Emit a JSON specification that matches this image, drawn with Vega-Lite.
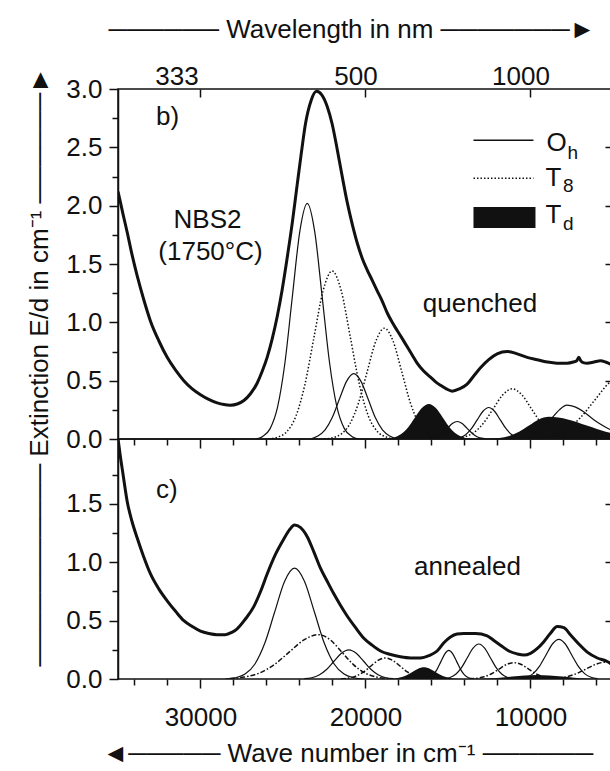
{
"$schema": "https://vega.github.io/schema/vega-lite/v6.json",
"background": "white",
"padding": {"left": 25, "top": 15, "right": 0, "bottom": 0},
"bounds": "flush",
"spacing": 0,
"config": {
 "view": {"stroke": "#111", "strokeWidth": 1.5},
 "font": "Liberation Sans",
 "axis": {"domainColor": "#111", "tickColor": "#111", "labelColor": "#111", "titleColor": "#111", "labelFont": "Liberation Sans", "titleFont": "Liberation Sans", "labelFontSize": 26, "titleFontSize": 26, "titleFontWeight": "normal", "grid": false, "domainWidth": 1.5, "tickWidth": 1.5, "labelOverlap": false, "labelFlush": false},
 "text": {"font": "Liberation Sans", "fontSize": 26, "color": "#111"}
},
"datasets": {
 "top": [
  {"k":"T","s":"t","x":35000,"y":2.12},{"k":"T","s":"t","x":34950,"y":2.09},{"k":"T","s":"t","x":34700,"y":1.93},{"k":"T","s":"t","x":34440,"y":1.77},{"k":"T","s":"t","x":34150,"y":1.58},{"k":"T","s":"t","x":33840,"y":1.40},{"k":"T","s":"t","x":33450,"y":1.20},{"k":"T","s":"t","x":33030,"y":1.01},{"k":"T","s":"t","x":32520,"y":0.84},{"k":"T","s":"t","x":32020,"y":0.70},{"k":"T","s":"t","x":31510,"y":0.59},{"k":"T","s":"t","x":31010,"y":0.50},{"k":"T","s":"t","x":30500,"y":0.43},{"k":"T","s":"t","x":30000,"y":0.38},{"k":"T","s":"t","x":29500,"y":0.34},{"k":"T","s":"t","x":28990,"y":0.31},{"k":"T","s":"t","x":28580,"y":0.295},{"k":"T","s":"t","x":28180,"y":0.29},{"k":"T","s":"t","x":27770,"y":0.30},{"k":"T","s":"t","x":27370,"y":0.33},{"k":"T","s":"t","x":26960,"y":0.39},{"k":"T","s":"t","x":26560,"y":0.48},{"k":"T","s":"t","x":26260,"y":0.58},{"k":"T","s":"t","x":25960,"y":0.70},{"k":"T","s":"t","x":25650,"y":0.86},{"k":"T","s":"t","x":25350,"y":1.05},{"k":"T","s":"t","x":25050,"y":1.28},{"k":"T","s":"t","x":24750,"y":1.55},{"k":"T","s":"t","x":24440,"y":1.85},{"k":"T","s":"t","x":24140,"y":2.18},{"k":"T","s":"t","x":23890,"y":2.45},{"k":"T","s":"t","x":23640,"y":2.70},{"k":"T","s":"t","x":23300,"y":2.90},{"k":"T","s":"t","x":22970,"y":2.98},{"k":"T","s":"t","x":22650,"y":2.95},{"k":"T","s":"t","x":22320,"y":2.85},{"k":"T","s":"t","x":22020,"y":2.70},{"k":"T","s":"t","x":21710,"y":2.48},{"k":"T","s":"t","x":21410,"y":2.25},{"k":"T","s":"t","x":21110,"y":2.03},{"k":"T","s":"t","x":20800,"y":1.84},{"k":"T","s":"t","x":20500,"y":1.68},{"k":"T","s":"t","x":20200,"y":1.55},{"k":"T","s":"t","x":19900,"y":1.45},{"k":"T","s":"t","x":19590,"y":1.36},{"k":"T","s":"t","x":19290,"y":1.27},{"k":"T","s":"t","x":18980,"y":1.18},{"k":"T","s":"t","x":18680,"y":1.08},{"k":"T","s":"t","x":18380,"y":1.00},{"k":"T","s":"t","x":18080,"y":0.93},{"k":"T","s":"t","x":17770,"y":0.86},{"k":"T","s":"t","x":17470,"y":0.79},{"k":"T","s":"t","x":17170,"y":0.72},{"k":"T","s":"t","x":16870,"y":0.65},{"k":"T","s":"t","x":16460,"y":0.58},{"k":"T","s":"t","x":16060,"y":0.53},{"k":"T","s":"t","x":15750,"y":0.49},{"k":"T","s":"t","x":15450,"y":0.46},{"k":"T","s":"t","x":15100,"y":0.43},{"k":"T","s":"t","x":14750,"y":0.41},{"k":"T","s":"t","x":14300,"y":0.43},{"k":"T","s":"t","x":13840,"y":0.47},{"k":"T","s":"t","x":13440,"y":0.54},{"k":"T","s":"t","x":13030,"y":0.61},{"k":"T","s":"t","x":12530,"y":0.68},{"k":"T","s":"t","x":12020,"y":0.73},{"k":"T","s":"t","x":11410,"y":0.75},{"k":"T","s":"t","x":10800,"y":0.73},{"k":"T","s":"t","x":10200,"y":0.70},{"k":"T","s":"t","x":9600,"y":0.68},{"k":"T","s":"t","x":8990,"y":0.66},{"k":"T","s":"t","x":8400,"y":0.65},{"k":"T","s":"t","x":7780,"y":0.65},{"k":"T","s":"t","x":7400,"y":0.66},{"k":"T","s":"t","x":7200,"y":0.67},{"k":"T","s":"t","x":7070,"y":0.70},{"k":"T","s":"t","x":6950,"y":0.67},{"k":"T","s":"t","x":6800,"y":0.655},{"k":"T","s":"t","x":6560,"y":0.65},{"k":"T","s":"t","x":6150,"y":0.66},{"k":"T","s":"t","x":5760,"y":0.67},{"k":"T","s":"t","x":5450,"y":0.66},{"k":"T","s":"t","x":5120,"y":0.64},
  {"k":"O","s":"a","x":26680,"y":0},{"k":"O","s":"a","x":26230,"y":0.022},{"k":"O","s":"a","x":25780,"y":0.089},{"k":"O","s":"a","x":25330,"y":0.273},{"k":"O","s":"a","x":24880,"y":0.656},{"k":"O","s":"a","x":24430,"y":1.225},{"k":"O","s":"a","x":23980,"y":1.78},{"k":"O","s":"a","x":23530,"y":2.02},{"k":"O","s":"a","x":23080,"y":1.78},{"k":"O","s":"a","x":22630,"y":1.225},{"k":"O","s":"a","x":22180,"y":0.656},{"k":"O","s":"a","x":21730,"y":0.273},{"k":"O","s":"a","x":21280,"y":0.089},{"k":"O","s":"a","x":20830,"y":0.022},{"k":"O","s":"a","x":20380,"y":0},
  {"k":"O","s":"b","x":23335,"y":0},{"k":"O","s":"b","x":22897,"y":0.025},{"k":"O","s":"b","x":22460,"y":0.076},{"k":"O","s":"b","x":22022,"y":0.182},{"k":"O","s":"b","x":21585,"y":0.34},{"k":"O","s":"b","x":21147,"y":0.494},{"k":"O","s":"b","x":20710,"y":0.56},{"k":"O","s":"b","x":20273,"y":0.494},{"k":"O","s":"b","x":19835,"y":0.34},{"k":"O","s":"b","x":19398,"y":0.182},{"k":"O","s":"b","x":18960,"y":0.076},{"k":"O","s":"b","x":18523,"y":0.025},{"k":"O","s":"b","x":18085,"y":0},
  {"k":"O","s":"c","x":16240,"y":0},{"k":"O","s":"c","x":15940,"y":0.007},{"k":"O","s":"c","x":15640,"y":0.02},{"k":"O","s":"c","x":15340,"y":0.049},{"k":"O","s":"c","x":15040,"y":0.091},{"k":"O","s":"c","x":14740,"y":0.132},{"k":"O","s":"c","x":14440,"y":0.15},{"k":"O","s":"c","x":14140,"y":0.132},{"k":"O","s":"c","x":13840,"y":0.091},{"k":"O","s":"c","x":13540,"y":0.049},{"k":"O","s":"c","x":13240,"y":0.02},{"k":"O","s":"c","x":12940,"y":0.007},{"k":"O","s":"c","x":12640,"y":0},
  {"k":"O","s":"d","x":14630,"y":0},{"k":"O","s":"d","x":14280,"y":0.012},{"k":"O","s":"d","x":13930,"y":0.037},{"k":"O","s":"d","x":13580,"y":0.088},{"k":"O","s":"d","x":13230,"y":0.164},{"k":"O","s":"d","x":12880,"y":0.238},{"k":"O","s":"d","x":12530,"y":0.27},{"k":"O","s":"d","x":12180,"y":0.238},{"k":"O","s":"d","x":11830,"y":0.164},{"k":"O","s":"d","x":11480,"y":0.088},{"k":"O","s":"d","x":11130,"y":0.037},{"k":"O","s":"d","x":10780,"y":0.012},{"k":"O","s":"d","x":10430,"y":0},
  {"k":"O","s":"e","x":10700,"y":0},{"k":"O","s":"e","x":10200,"y":0.012},{"k":"O","s":"e","x":9700,"y":0.04},{"k":"O","s":"e","x":9200,"y":0.10},{"k":"O","s":"e","x":8700,"y":0.18},{"k":"O","s":"e","x":8250,"y":0.25},{"k":"O","s":"e","x":7800,"y":0.29},{"k":"O","s":"e","x":7300,"y":0.275},{"k":"O","s":"e","x":6800,"y":0.235},{"k":"O","s":"e","x":6300,"y":0.18},{"k":"O","s":"e","x":5800,"y":0.13},{"k":"O","s":"e","x":5300,"y":0.09},{"k":"O","s":"e","x":5000,"y":0.07},
  {"k":"E","s":"f","x":25870,"y":0},{"k":"E","s":"f","x":25320,"y":0.016},{"k":"E","s":"f","x":24770,"y":0.063},{"k":"E","s":"f","x":24220,"y":0.195},{"k":"E","s":"f","x":23670,"y":0.468},{"k":"E","s":"f","x":23120,"y":0.873},{"k":"E","s":"f","x":22570,"y":1.271},{"k":"E","s":"f","x":22020,"y":1.44},{"k":"E","s":"f","x":21470,"y":1.271},{"k":"E","s":"f","x":20920,"y":0.873},{"k":"E","s":"f","x":20370,"y":0.468},{"k":"E","s":"f","x":19820,"y":0.195},{"k":"E","s":"f","x":19270,"y":0.063},{"k":"E","s":"f","x":18720,"y":0.016},{"k":"E","s":"f","x":18170,"y":0},
  {"k":"E","s":"g","x":22500,"y":0},{"k":"E","s":"g","x":22000,"y":0.011},{"k":"E","s":"g","x":21475,"y":0.042},{"k":"E","s":"g","x":20950,"y":0.129},{"k":"E","s":"g","x":20425,"y":0.308},{"k":"E","s":"g","x":19900,"y":0.576},{"k":"E","s":"g","x":19375,"y":0.838},{"k":"E","s":"g","x":18850,"y":0.95},{"k":"E","s":"g","x":18325,"y":0.838},{"k":"E","s":"g","x":17800,"y":0.576},{"k":"E","s":"g","x":17275,"y":0.308},{"k":"E","s":"g","x":16750,"y":0.129},{"k":"E","s":"g","x":16225,"y":0.042},{"k":"E","s":"g","x":15700,"y":0.011},{"k":"E","s":"g","x":15200,"y":0},
  {"k":"E","s":"h","x":14550,"y":0.005},{"k":"E","s":"h","x":13975,"y":0.019},{"k":"E","s":"h","x":13400,"y":0.058},{"k":"E","s":"h","x":12825,"y":0.14},{"k":"E","s":"h","x":12250,"y":0.261},{"k":"E","s":"h","x":11675,"y":0.379},{"k":"E","s":"h","x":11100,"y":0.43},{"k":"E","s":"h","x":10525,"y":0.379},{"k":"E","s":"h","x":9950,"y":0.261},{"k":"E","s":"h","x":9375,"y":0.14},{"k":"E","s":"h","x":8800,"y":0.058},{"k":"E","s":"h","x":8225,"y":0.019},{"k":"E","s":"h","x":7650,"y":0.005},
  {"k":"E","s":"i","x":9700,"y":0.006},{"k":"E","s":"i","x":8800,"y":0.025},{"k":"E","s":"i","x":7900,"y":0.074},{"k":"E","s":"i","x":7000,"y":0.179},{"k":"E","s":"i","x":6100,"y":0.334},{"k":"E","s":"i","x":5200,"y":0.485},{"k":"E","s":"i","x":4300,"y":0.55},
  {"k":"D","s":"j","x":18710,"y":0},{"k":"D","s":"j","x":18285,"y":0.013},{"k":"D","s":"j","x":17860,"y":0.041},{"k":"D","s":"j","x":17435,"y":0.097},{"k":"D","s":"j","x":17010,"y":0.182},{"k":"D","s":"j","x":16585,"y":0.265},{"k":"D","s":"j","x":16160,"y":0.30},{"k":"D","s":"j","x":15735,"y":0.265},{"k":"D","s":"j","x":15310,"y":0.182},{"k":"D","s":"j","x":14885,"y":0.097},{"k":"D","s":"j","x":14460,"y":0.041},{"k":"D","s":"j","x":14035,"y":0.013},{"k":"D","s":"j","x":13610,"y":0},
  {"k":"D","s":"k","x":12490,"y":0},{"k":"D","s":"k","x":11890,"y":0.008},{"k":"D","s":"k","x":11290,"y":0.026},{"k":"D","s":"k","x":10690,"y":0.062},{"k":"D","s":"k","x":10090,"y":0.115},{"k":"D","s":"k","x":9490,"y":0.168},{"k":"D","s":"k","x":8890,"y":0.19},{"k":"D","s":"k","x":7740,"y":0.168},{"k":"D","s":"k","x":6590,"y":0.115},{"k":"D","s":"k","x":5440,"y":0.062},{"k":"D","s":"k","x":4290,"y":0.026}
 ],
 "bot": [
  {"k":"T","s":"t","x":35000,"y":2.06},{"k":"T","s":"t","x":34850,"y":1.90},{"k":"T","s":"t","x":34700,"y":1.76},{"k":"T","s":"t","x":34440,"y":1.52},{"k":"T","s":"t","x":34150,"y":1.35},{"k":"T","s":"t","x":33840,"y":1.21},{"k":"T","s":"t","x":33450,"y":1.05},{"k":"T","s":"t","x":33030,"y":0.90},{"k":"T","s":"t","x":32520,"y":0.77},{"k":"T","s":"t","x":32020,"y":0.67},{"k":"T","s":"t","x":31510,"y":0.58},{"k":"T","s":"t","x":31010,"y":0.50},{"k":"T","s":"t","x":30500,"y":0.45},{"k":"T","s":"t","x":30000,"y":0.41},{"k":"T","s":"t","x":29500,"y":0.39},{"k":"T","s":"t","x":29000,"y":0.38},{"k":"T","s":"t","x":28500,"y":0.38},{"k":"T","s":"t","x":28100,"y":0.40},{"k":"T","s":"t","x":27780,"y":0.43},{"k":"T","s":"t","x":27300,"y":0.51},{"k":"T","s":"t","x":26770,"y":0.62},{"k":"T","s":"t","x":26360,"y":0.75},{"k":"T","s":"t","x":25960,"y":0.90},{"k":"T","s":"t","x":25450,"y":1.07},{"k":"T","s":"t","x":24950,"y":1.20},{"k":"T","s":"t","x":24600,"y":1.28},{"k":"T","s":"t","x":24300,"y":1.32},{"k":"T","s":"t","x":23950,"y":1.30},{"k":"T","s":"t","x":23530,"y":1.22},{"k":"T","s":"t","x":23130,"y":1.09},{"k":"T","s":"t","x":22730,"y":0.95},{"k":"T","s":"t","x":22330,"y":0.84},{"k":"T","s":"t","x":21920,"y":0.73},{"k":"T","s":"t","x":21510,"y":0.63},{"k":"T","s":"t","x":21110,"y":0.54},{"k":"T","s":"t","x":20600,"y":0.44},{"k":"T","s":"t","x":20100,"y":0.35},{"k":"T","s":"t","x":19600,"y":0.29},{"k":"T","s":"t","x":19090,"y":0.24},{"k":"T","s":"t","x":18480,"y":0.21},{"k":"T","s":"t","x":17880,"y":0.19},{"k":"T","s":"t","x":17270,"y":0.18},{"k":"T","s":"t","x":16670,"y":0.18},{"k":"T","s":"t","x":16160,"y":0.20},{"k":"T","s":"t","x":15660,"y":0.24},{"k":"T","s":"t","x":15250,"y":0.31},{"k":"T","s":"t","x":14850,"y":0.36},{"k":"T","s":"t","x":14450,"y":0.385},{"k":"T","s":"t","x":14040,"y":0.39},{"k":"T","s":"t","x":13330,"y":0.39},{"k":"T","s":"t","x":12620,"y":0.37},{"k":"T","s":"t","x":12220,"y":0.33},{"k":"T","s":"t","x":11820,"y":0.29},{"k":"T","s":"t","x":11310,"y":0.24},{"k":"T","s":"t","x":10810,"y":0.215},{"k":"T","s":"t","x":10400,"y":0.205},{"k":"T","s":"t","x":10000,"y":0.22},{"k":"T","s":"t","x":9600,"y":0.26},{"k":"T","s":"t","x":9190,"y":0.32},{"k":"T","s":"t","x":8800,"y":0.39},{"k":"T","s":"t","x":8380,"y":0.45},{"k":"T","s":"t","x":7980,"y":0.44},{"k":"T","s":"t","x":7580,"y":0.38},{"k":"T","s":"t","x":7070,"y":0.30},{"k":"T","s":"t","x":6560,"y":0.23},{"k":"T","s":"t","x":5950,"y":0.18},{"k":"T","s":"t","x":5350,"y":0.15},{"k":"T","s":"t","x":5120,"y":0.13},
  {"k":"O","s":"a","x":28500,"y":0},{"k":"O","s":"a","x":27900,"y":0.0105},{"k":"O","s":"a","x":27300,"y":0.042},{"k":"O","s":"a","x":26700,"y":0.129},{"k":"O","s":"a","x":26100,"y":0.308},{"k":"O","s":"a","x":25500,"y":0.576},{"k":"O","s":"a","x":24900,"y":0.838},{"k":"O","s":"a","x":24300,"y":0.95},{"k":"O","s":"a","x":23700,"y":0.838},{"k":"O","s":"a","x":23100,"y":0.576},{"k":"O","s":"a","x":22500,"y":0.308},{"k":"O","s":"a","x":21900,"y":0.129},{"k":"O","s":"a","x":21300,"y":0.042},{"k":"O","s":"a","x":20700,"y":0.0105},{"k":"O","s":"a","x":20100,"y":0},
  {"k":"O","s":"b","x":23710,"y":0.003},{"k":"O","s":"b","x":23260,"y":0.011},{"k":"O","s":"b","x":22810,"y":0.034},{"k":"O","s":"b","x":22360,"y":0.081},{"k":"O","s":"b","x":21910,"y":0.152},{"k":"O","s":"b","x":21460,"y":0.221},{"k":"O","s":"b","x":21010,"y":0.25},{"k":"O","s":"b","x":20560,"y":0.221},{"k":"O","s":"b","x":20110,"y":0.152},{"k":"O","s":"b","x":19660,"y":0.081},{"k":"O","s":"b","x":19210,"y":0.034},{"k":"O","s":"b","x":18760,"y":0.011},{"k":"O","s":"b","x":18310,"y":0.003},
  {"k":"O","s":"c","x":16390,"y":0.003},{"k":"O","s":"c","x":16150,"y":0.011},{"k":"O","s":"c","x":15910,"y":0.033},{"k":"O","s":"c","x":15670,"y":0.08},{"k":"O","s":"c","x":15430,"y":0.149},{"k":"O","s":"c","x":15190,"y":0.216},{"k":"O","s":"c","x":14950,"y":0.245},{"k":"O","s":"c","x":14710,"y":0.216},{"k":"O","s":"c","x":14470,"y":0.149},{"k":"O","s":"c","x":14230,"y":0.08},{"k":"O","s":"c","x":13990,"y":0.033},{"k":"O","s":"c","x":13750,"y":0.011},{"k":"O","s":"c","x":13510,"y":0.003},
  {"k":"O","s":"d","x":15230,"y":0.003},{"k":"O","s":"d","x":14880,"y":0.013},{"k":"O","s":"d","x":14530,"y":0.041},{"k":"O","s":"d","x":14180,"y":0.097},{"k":"O","s":"d","x":13830,"y":0.182},{"k":"O","s":"d","x":13480,"y":0.265},{"k":"O","s":"d","x":13130,"y":0.30},{"k":"O","s":"d","x":12780,"y":0.265},{"k":"O","s":"d","x":12430,"y":0.182},{"k":"O","s":"d","x":12080,"y":0.097},{"k":"O","s":"d","x":11730,"y":0.041},{"k":"O","s":"d","x":11380,"y":0.013},{"k":"O","s":"d","x":11030,"y":0.003},
  {"k":"O","s":"e","x":10620,"y":0.004},{"k":"O","s":"e","x":10230,"y":0.015},{"k":"O","s":"e","x":9840,"y":0.046},{"k":"O","s":"e","x":9450,"y":0.11},{"k":"O","s":"e","x":9060,"y":0.206},{"k":"O","s":"e","x":8670,"y":0.30},{"k":"O","s":"e","x":8280,"y":0.34},{"k":"O","s":"e","x":7890,"y":0.30},{"k":"O","s":"e","x":7500,"y":0.206},{"k":"O","s":"e","x":7110,"y":0.11},{"k":"O","s":"e","x":6720,"y":0.046},{"k":"O","s":"e","x":6330,"y":0.015},{"k":"O","s":"e","x":5940,"y":0.004},
  {"k":"E","s":"f","x":28230,"y":0.004},{"k":"E","s":"f","x":27330,"y":0.017},{"k":"E","s":"f","x":26430,"y":0.051},{"k":"E","s":"f","x":25530,"y":0.123},{"k":"E","s":"f","x":24630,"y":0.23},{"k":"E","s":"f","x":23730,"y":0.335},{"k":"E","s":"f","x":22830,"y":0.38},{"k":"E","s":"f","x":22130,"y":0.335},{"k":"E","s":"f","x":21430,"y":0.23},{"k":"E","s":"f","x":20730,"y":0.123},{"k":"E","s":"f","x":20030,"y":0.051},{"k":"E","s":"f","x":19330,"y":0.017},{"k":"E","s":"f","x":18630,"y":0.004},
  {"k":"E","s":"g","x":21490,"y":0.002},{"k":"E","s":"g","x":21040,"y":0.008},{"k":"E","s":"g","x":20590,"y":0.024},{"k":"E","s":"g","x":20140,"y":0.058},{"k":"E","s":"g","x":19690,"y":0.109},{"k":"E","s":"g","x":19240,"y":0.159},{"k":"E","s":"g","x":18790,"y":0.18},{"k":"E","s":"g","x":18340,"y":0.159},{"k":"E","s":"g","x":17890,"y":0.109},{"k":"E","s":"g","x":17440,"y":0.058},{"k":"E","s":"g","x":16990,"y":0.024},{"k":"E","s":"g","x":16540,"y":0.008},{"k":"E","s":"g","x":16090,"y":0.002},
  {"k":"E","s":"h","x":13710,"y":0.002},{"k":"E","s":"h","x":13260,"y":0.006},{"k":"E","s":"h","x":12810,"y":0.019},{"k":"E","s":"h","x":12360,"y":0.045},{"k":"E","s":"h","x":11910,"y":0.085},{"k":"E","s":"h","x":11460,"y":0.124},{"k":"E","s":"h","x":11010,"y":0.14},{"k":"E","s":"h","x":10560,"y":0.124},{"k":"E","s":"h","x":10110,"y":0.085},{"k":"E","s":"h","x":9660,"y":0.045},{"k":"E","s":"h","x":9210,"y":0.019},{"k":"E","s":"h","x":8760,"y":0.006},{"k":"E","s":"h","x":8310,"y":0.002},
  {"k":"E","s":"i","x":9000,"y":0.002},{"k":"E","s":"i","x":8400,"y":0.006},{"k":"E","s":"i","x":7800,"y":0.02},{"k":"E","s":"i","x":7200,"y":0.047},{"k":"E","s":"i","x":6600,"y":0.088},{"k":"E","s":"i","x":6000,"y":0.128},{"k":"E","s":"i","x":5400,"y":0.145},{"k":"E","s":"i","x":4800,"y":0.128},
  {"k":"D","s":"j","x":18560,"y":0.001},{"k":"D","s":"j","x":18210,"y":0.004},{"k":"D","s":"j","x":17860,"y":0.014},{"k":"D","s":"j","x":17510,"y":0.032},{"k":"D","s":"j","x":17160,"y":0.061},{"k":"D","s":"j","x":16810,"y":0.088},{"k":"D","s":"j","x":16460,"y":0.10},{"k":"D","s":"j","x":16110,"y":0.088},{"k":"D","s":"j","x":15760,"y":0.061},{"k":"D","s":"j","x":15410,"y":0.032},{"k":"D","s":"j","x":15060,"y":0.014},{"k":"D","s":"j","x":14710,"y":0.004},{"k":"D","s":"j","x":14360,"y":0.001},
  {"k":"D","s":"k","x":13350,"y":0.0015},{"k":"D","s":"k","x":12600,"y":0.005},{"k":"D","s":"k","x":11850,"y":0.011},{"k":"D","s":"k","x":11100,"y":0.021},{"k":"D","s":"k","x":10350,"y":0.031},{"k":"D","s":"k","x":9600,"y":0.035},{"k":"D","s":"k","x":8850,"y":0.031},{"k":"D","s":"k","x":8100,"y":0.021},{"k":"D","s":"k","x":7350,"y":0.011},{"k":"D","s":"k","x":6600,"y":0.005},{"k":"D","s":"k","x":5850,"y":0.0015}
 ]
},
"vconcat": [
 {
  "width": 493, "height": 350,
  "data": {"name": "top"},
  "resolve": {"axis": {"x": "independent", "y": "independent"}},
  "layer": [
   {"transform": [{"filter": "datum.k == 'D'"}],
    "mark": {"type": "area", "color": "#111", "interpolate": "monotone", "clip": true},
    "encoding": {
     "x": {"field": "x", "type": "quantitative", "scale": {"domain": [5120, 35000], "reverse": true, "nice": false, "zero": false},
       "axis": {"orient": "bottom", "values": [6000,8000,10000,12000,14000,16000,18000,20000,22000,24000,26000,28000,30000,32000,34000], "labels": false, "domain": false, "title": null, "tickSize": {"condition": {"test": "datum.value % 10000 == 0", "value": 9}, "value": 6}}},
     "y": {"field": "y", "type": "quantitative", "stack": null, "scale": {"domain": [0, 3], "nice": false, "zero": false},
       "axis": {"orient": "left", "values": [0,0.25,0.5,0.75,1,1.25,1.5,1.75,2,2.25,2.5,2.75,3], "labelExpr": "datum.value % 0.5 == 0 ? format(datum.value, '.1f') : ''", "tickSize": {"condition": {"test": "datum.value % 0.5 == 0", "value": 9}, "value": 6}, "labelPadding": 7,
         "title": "───────────  Extinction E/d in cm⁻¹  ──────►", "titleAngle": 270, "titleX": -79, "titleY": 577, "titleAlign": "left", "titleBaseline": "middle"}},
     "detail": {"field": "s"}
    }},
   {"transform": [{"filter": "datum.k == 'O'"}],
    "mark": {"type": "line", "color": "#111", "strokeWidth": 1.2, "interpolate": "monotone", "clip": true},
    "encoding": {
     "x": {"field": "x", "type": "quantitative", "scale": {"domain": [5120, 35000], "reverse": true, "nice": false, "zero": false}, "axis": null},
     "y": {"field": "y", "type": "quantitative", "scale": {"domain": [0, 3], "nice": false, "zero": false}, "axis": null},
     "detail": {"field": "s"}
    }},
   {"transform": [{"filter": "datum.k == 'E'"}],
    "mark": {"type": "line", "color": "#111", "strokeWidth": 1.5, "strokeDash": [1.5, 2], "interpolate": "monotone", "clip": true},
    "encoding": {
     "x": {"field": "x", "type": "quantitative", "scale": {"domain": [5120, 35000], "reverse": true, "nice": false, "zero": false}, "axis": null},
     "y": {"field": "y", "type": "quantitative", "scale": {"domain": [0, 3], "nice": false, "zero": false}, "axis": null},
     "detail": {"field": "s"}
    }},
   {"transform": [{"filter": "datum.k == 'T'"}],
    "mark": {"type": "line", "color": "#111", "strokeWidth": 3, "interpolate": "monotone", "clip": true},
    "encoding": {
     "x": {"field": "x", "type": "quantitative", "scale": {"domain": [5120, 35000], "reverse": true, "nice": false, "zero": false},
       "axis": {"orient": "top", "values": [30000, 20000, 10000], "labelExpr": "datum.value == 30000 ? '333' : datum.value == 20000 ? '500' : '1000'", "tickSize": -8, "labelPadding": 8, "domain": false,
         "labelOffset": {"condition": {"test": "datum.value == 30000", "value": -24}, "value": -10},
         "title": "──────  Wavelength in nm  ───────►", "titleX": -10, "titleY": -60, "titleAlign": "left", "titleBaseline": "middle"}},
     "y": {"field": "y", "type": "quantitative", "scale": {"domain": [0, 3], "nice": false, "zero": false},
       "axis": {"orient": "right", "values": [0.5,1,1.5,2,2.5], "labels": false, "tickSize": -6, "domain": false, "title": null}}
    }},
   {"data": {"values": [{}]}, "mark": {"type": "rule", "color": "#111", "strokeWidth": 1.5},
    "encoding": {"x": {"datum": 13455, "type": "quantitative", "scale": {"domain": [5120, 35000], "reverse": true, "nice": false, "zero": false}, "axis": null}, "x2": {"datum": 9820},
      "y": {"datum": 2.56, "type": "quantitative", "scale": {"domain": [0, 3], "nice": false, "zero": false}, "axis": null}}},
   {"data": {"values": [{}]}, "mark": {"type": "rule", "color": "#111", "strokeWidth": 1.5, "strokeDash": [1.5, 2]},
    "encoding": {"x": {"datum": 13455, "type": "quantitative", "scale": {"domain": [5120, 35000], "reverse": true, "nice": false, "zero": false}, "axis": null}, "x2": {"datum": 9820},
      "y": {"datum": 2.236, "type": "quantitative", "scale": {"domain": [0, 3], "nice": false, "zero": false}, "axis": null}}},
   {"data": {"values": [{}]}, "mark": {"type": "rect", "color": "#111"},
    "encoding": {"x": {"datum": 13455, "type": "quantitative", "scale": {"domain": [5120, 35000], "reverse": true, "nice": false, "zero": false}, "axis": null}, "x2": {"datum": 9697},
      "y": {"datum": 1.988, "type": "quantitative", "scale": {"domain": [0, 3], "nice": false, "zero": false}, "axis": null}, "y2": {"datum": 1.808}}},
   {"data": {"values": [{}]}, "mark": {"type": "text", "text": "O", "align": "left"},
    "encoding": {"x": {"datum": 9030, "type": "quantitative", "axis": null}, "y": {"datum": 2.536, "type": "quantitative", "axis": null}}},
   {"data": {"values": [{}]}, "mark": {"type": "text", "text": "h", "align": "left", "fontSize": 19},
    "encoding": {"x": {"datum": 7757, "type": "quantitative", "axis": null}, "y": {"datum": 2.45, "type": "quantitative", "axis": null}}},
   {"data": {"values": [{}]}, "mark": {"type": "text", "text": "T", "align": "left"},
    "encoding": {"x": {"datum": 9090, "type": "quantitative", "axis": null}, "y": {"datum": 2.236, "type": "quantitative", "axis": null}}},
   {"data": {"values": [{}]}, "mark": {"type": "text", "text": "8", "align": "left", "fontSize": 19},
    "encoding": {"x": {"datum": 8030, "type": "quantitative", "axis": null}, "y": {"datum": 2.17, "type": "quantitative", "axis": null}}},
   {"data": {"values": [{}]}, "mark": {"type": "text", "text": "T", "align": "left"},
    "encoding": {"x": {"datum": 9090, "type": "quantitative", "axis": null}, "y": {"datum": 1.92, "type": "quantitative", "axis": null}}},
   {"data": {"values": [{}]}, "mark": {"type": "text", "text": "d", "align": "left", "fontSize": 19},
    "encoding": {"x": {"datum": 8030, "type": "quantitative", "axis": null}, "y": {"datum": 1.84, "type": "quantitative", "axis": null}}},
   {"data": {"values": [{}]}, "mark": {"type": "text", "text": "b)", "align": "left"},
    "encoding": {"x": {"datum": 32700, "type": "quantitative", "axis": null}, "y": {"datum": 2.76, "type": "quantitative", "axis": null}}},
   {"data": {"values": [{}]}, "mark": {"type": "text", "text": "NBS2", "align": "center"},
    "encoding": {"x": {"datum": 29576, "type": "quantitative", "axis": null}, "y": {"datum": 1.877, "type": "quantitative", "axis": null}}},
   {"data": {"values": [{}]}, "mark": {"type": "text", "text": "(1750°C)", "align": "center"},
    "encoding": {"x": {"datum": 29394, "type": "quantitative", "axis": null}, "y": {"datum": 1.60, "type": "quantitative", "axis": null}}},
   {"data": {"values": [{}]}, "mark": {"type": "text", "text": "quenched", "align": "center"},
    "encoding": {"x": {"datum": 13061, "type": "quantitative", "axis": null}, "y": {"datum": 1.157, "type": "quantitative", "axis": null}}}
  ]
 },
 {
  "width": 493, "height": 240,
  "data": {"name": "bot"},
  "resolve": {"axis": {"x": "independent", "y": "independent"}},
  "layer": [
   {"transform": [{"filter": "datum.k == 'D'"}],
    "mark": {"type": "area", "color": "#111", "interpolate": "monotone", "clip": true},
    "encoding": {
     "x": {"field": "x", "type": "quantitative", "scale": {"domain": [5120, 35000], "reverse": true, "nice": false, "zero": false},
       "axis": {"orient": "bottom", "values": [6000,8000,10000,12000,14000,16000,18000,20000,22000,24000,26000,28000,30000,32000,34000], "labelExpr": "datum.value % 10000 == 0 ? format(datum.value, 'd') : ''", "labelPadding": 16, "domain": false,
         "tickSize": {"condition": {"test": "datum.value % 10000 == 0", "value": 9}, "value": 6},
         "title": "◄─────  Wave number in cm⁻¹  ──────", "titleX": -16, "titleY": 74, "titleAlign": "left", "titleBaseline": "middle"}},
     "y": {"field": "y", "type": "quantitative", "stack": null, "scale": {"domain": [0, 2.057], "nice": false, "zero": false},
       "axis": {"orient": "left", "values": [0,0.25,0.5,0.75,1,1.25,1.5,1.75], "labelExpr": "datum.value % 0.5 == 0 ? format(datum.value, '.1f') : ''", "tickSize": {"condition": {"test": "datum.value % 0.5 == 0", "value": 9}, "value": 6}, "labelPadding": 7, "title": null}},
     "detail": {"field": "s"}
    }},
   {"transform": [{"filter": "datum.k == 'O'"}],
    "mark": {"type": "line", "color": "#111", "strokeWidth": 1.2, "interpolate": "monotone", "clip": true},
    "encoding": {
     "x": {"field": "x", "type": "quantitative", "scale": {"domain": [5120, 35000], "reverse": true, "nice": false, "zero": false}, "axis": null},
     "y": {"field": "y", "type": "quantitative", "scale": {"domain": [0, 2.057], "nice": false, "zero": false}, "axis": null},
     "detail": {"field": "s"}
    }},
   {"transform": [{"filter": "datum.k == 'E'"}],
    "mark": {"type": "line", "color": "#111", "strokeWidth": 1.5, "strokeDash": [5, 2, 1.5, 2], "interpolate": "monotone", "clip": true},
    "encoding": {
     "x": {"field": "x", "type": "quantitative", "scale": {"domain": [5120, 35000], "reverse": true, "nice": false, "zero": false}, "axis": null},
     "y": {"field": "y", "type": "quantitative", "scale": {"domain": [0, 2.057], "nice": false, "zero": false}, "axis": null},
     "detail": {"field": "s"}
    }},
   {"transform": [{"filter": "datum.k == 'T'"}],
    "mark": {"type": "line", "color": "#111", "strokeWidth": 3, "interpolate": "monotone", "clip": true},
    "encoding": {
     "x": {"field": "x", "type": "quantitative", "scale": {"domain": [5120, 35000], "reverse": true, "nice": false, "zero": false}, "axis": null},
     "y": {"field": "y", "type": "quantitative", "scale": {"domain": [0, 2.057], "nice": false, "zero": false},
       "axis": {"orient": "right", "values": [0.5,1,1.5], "labels": false, "tickSize": -6, "domain": false, "title": null}}
    }},
   {"data": {"values": [{}]}, "mark": {"type": "text", "text": "c)", "align": "left"},
    "encoding": {"x": {"datum": 32700, "type": "quantitative", "axis": null}, "y": {"datum": 1.62, "type": "quantitative", "axis": null}}},
   {"data": {"values": [{}]}, "mark": {"type": "text", "text": "annealed", "align": "center"},
    "encoding": {"x": {"datum": 13818, "type": "quantitative", "axis": null}, "y": {"datum": 0.96, "type": "quantitative", "axis": null}}}
  ]
 }
]
}
